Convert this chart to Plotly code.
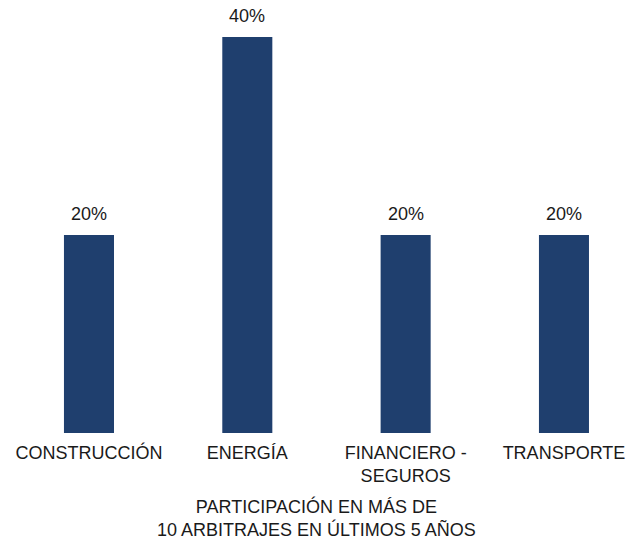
import plotly.graph_objects as go

categories = ["CONSTRUCCIÓN", "ENERGÍA", "FINANCIERO -<br>SEGUROS", "TRANSPORTE"]
shares = [0.20, 0.40, 0.20, 0.20]
value_labels = ["20%", "40%", "20%", "20%"]
axis_title = "PARTICIPACIÓN EN MÁS DE<br>10 ARBITRAJES EN ÚLTIMOS 5 AÑOS"

BAR_COLOR = "#1f3f6e"
TEXT_COLOR = "#1a1a1a"
FONT = "Liberation Sans, Arial, sans-serif"
SIZE = 18

fig = go.Figure(
    go.Bar(
        x=list(range(len(categories))),
        y=shares,
        width=0.316,
        marker=dict(color=BAR_COLOR, line=dict(width=0)),
        hoverinfo="skip",
    )
)

for i, (v, lab) in enumerate(zip(shares, value_labels)):
    fig.add_annotation(
        x=i, y=v, text=lab, showarrow=False,
        yanchor="bottom", yshift=9,
        font=dict(family=FONT, size=SIZE, color=TEXT_COLOR),
    )

fig.add_annotation(
    x=0.5, xref="paper", y=-0.14, yref="paper", yanchor="top",
    text=axis_title, showarrow=False,
    font=dict(family=FONT, size=SIZE, color=TEXT_COLOR),
)

fig.update_layout(
    width=633, height=541,
    margin=dict(l=0, r=0, t=0, b=108),
    plot_bgcolor="white", paper_bgcolor="white",
    showlegend=False,
    font=dict(family=FONT, size=SIZE, color=TEXT_COLOR),
)
fig.update_xaxes(
    tickmode="array", tickvals=list(range(len(categories))), ticktext=categories,
    range=[-0.562, 3.436], showgrid=False, zeroline=False, showline=False,
    ticks="outside", ticklen=3, tickcolor="rgba(0,0,0,0)",
    tickfont=dict(family=FONT, size=SIZE, color=TEXT_COLOR),
)
fig.update_yaxes(range=[0, 0.4374], visible=False, showgrid=False)

fig.write_html("out.html")
